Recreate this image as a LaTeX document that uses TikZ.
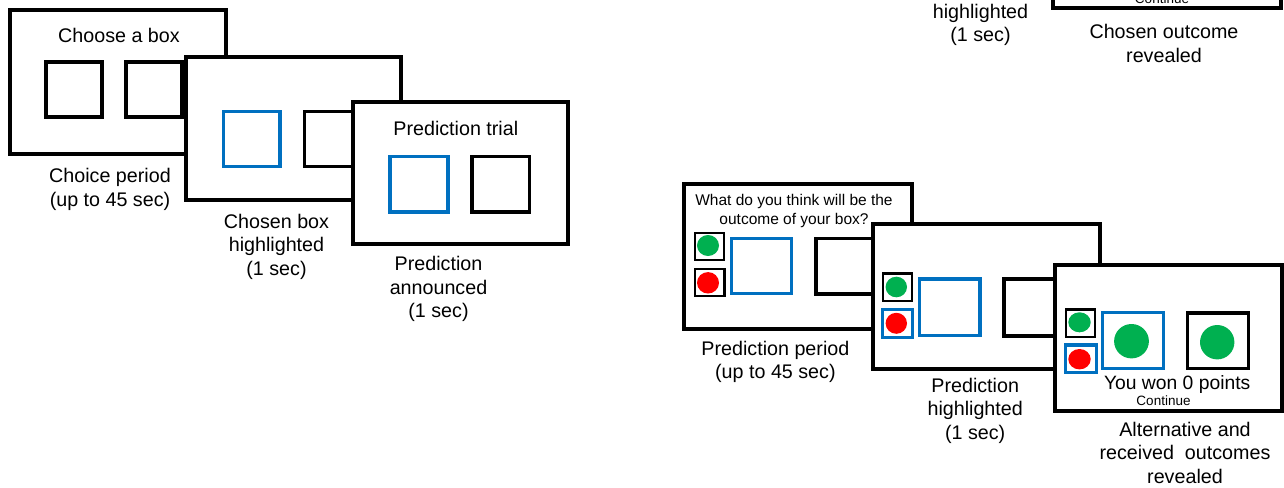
\documentclass[tikz,border=0pt]{standalone}
\usepackage{fontspec}
\setmainfont{Liberation Sans}
\definecolor{oblue}{RGB}{0,112,192}
\definecolor{ogreen}{RGB}{0,176,80}
\definecolor{ored}{RGB}{255,0,0}
\tikzset{
 pframe/.style={draw=black, line width=4pt, fill=white},
 kbox/.style={draw=black, line width=3.6pt},
 bbox/.style={draw=oblue, line width=3.4pt},
 skbox/.style={draw=black, line width=2.2pt},
 sbbox/.style={draw=oblue, line width=3.3pt},
 captext/.style={font=\fontsize{19.7}{23.5}\selectfont, align=center, inner sep=0pt, anchor=base},
 wontext/.style={font=\fontsize{19.3}{23}\selectfont, inner sep=0pt, anchor=base},
 smalltext/.style={font=\fontsize{13.5}{16}\selectfont, inner sep=0pt, anchor=base},
 questtext/.style={font=\fontsize{15.5}{18.8}\selectfont, align=center, inner sep=0pt, anchor=base},
 dotg/.style={fill=ogreen},
 dotr/.style={fill=ored},
}
\begin{document}
\begin{tikzpicture}[x=1pt,y=-1pt]
\path[use as bounding box, clip] (0,0) rectangle (1284,487);
\fill[white] (0,0) rectangle (1284,487);

% multi-line text nodes are placed by the baseline of their last line

% panel 1: choice period
\draw[pframe] (10,10) rectangle (225.5,153.5);
\draw[kbox] (46,62) rectangle (102,117);
\draw[kbox] (126,62) rectangle (182,117);
\node[captext] (t1) at (119,42.7) {Choose a box};
\node[captext] (c1) at (110,206) {Choice period\\(up to 45 sec)};

% panel 2: chosen box highlighted
\draw[pframe] (185.5,57) rectangle (401,199.5);
\draw[bbox] (223.5,111.5) rectangle (280,166.5);
\draw[kbox] (304.5,111.5) rectangle (361,166.5);
\node[captext] (c2) at (276.5,275.3) {Chosen box\\highlighted\\(1 sec)};

% panel 3: prediction announced
\draw[pframe] (353,102) rectangle (568,244);
\node[captext] (t3) at (455.8,135) {Prediction trial};
\draw[bbox] (390,156.5) rectangle (448,212);
\draw[kbox] (472,156.5) rectangle (529.3,212);
\node[captext] (c3) at (438.5,317.7) {Prediction\\announced\\(1 sec)};

% cropped panel at top right
\node[captext] (c0) at (980.5,41.8) {highlighted\\(1 sec)};
\draw[pframe] (1052.7,-60) rectangle (1280.7,8.3);
\node[smalltext] (k0) at (1162,3.3) {Continue};
\node[captext] (c0b) at (1164,62.5) {Chosen outcome\\revealed};

% panel 4: prediction period
\draw[pframe] (683.5,183.5) rectangle (912,328.5);
\node[questtext] (q4) at (794,224.5) {What do you think will be the\\outcome of your box?};
\draw[skbox] (694.7,233) rectangle (723.8,259.7);
\path[dotg] (708,245.5) ellipse [x radius=11, y radius=10.5];
\draw[skbox] (694.7,268.7) rectangle (724.5,296.2);
\path[dotr] (708,282.8) ellipse [x radius=11, y radius=10.7];
\draw[bbox] (731.3,238.3) rectangle (791.3,293.7);
\draw[kbox] (816,238.3) rectangle (876,293.7);
\node[captext] (c4) at (775.4,378.5) {Prediction period\\(up to 45 sec)};

% panel 5: prediction highlighted
\draw[pframe] (872.7,224.3) rectangle (1100,369.3);
\draw[skbox] (883,273.5) rectangle (912.2,301.2);
\path[dotg] (896.3,287) ellipse [x radius=10.7, y radius=10.3];
\draw[sbbox] (882.3,309.3) rectangle (912.3,337.7);
\path[dotr] (896.3,323.3) ellipse [x radius=10.7, y radius=10.5];
\draw[bbox] (919.7,279) rectangle (980,335.7);
\draw[kbox] (1003.7,279.2) rectangle (1064,335.7);
\node[captext] (c5) at (975.2,439.3) {Prediction\\highlighted\\(1 sec)};

% panel 6: outcomes revealed
\draw[pframe] (1055,265) rectangle (1282.3,411.3);
\draw[skbox] (1066.2,309.5) rectangle (1095.3,336.8);
\path[dotg] (1079.5,322.3) ellipse [x radius=11.2, y radius=10];
\draw[sbbox] (1065.7,345) rectangle (1096.7,372.3);
\path[dotr] (1079.5,359.2) ellipse [x radius=11.2, y radius=10.2];
\draw[bbox] (1102.7,312.7) rectangle (1163.3,368.3);
\path[dotg] (1131.5,341.2) ellipse [x radius=17.4, y radius=17.2];
\draw[kbox] (1187.3,312.7) rectangle (1248.3,368.3);
\path[dotg] (1217.2,342.2) ellipse [x radius=17.2, y radius=17.2];
\node[wontext] (w6) at (1177.2,389.3) {You won 0 points};
\node[smalltext] (k6) at (1163.5,405.7) {Continue};
\node[captext] (c6) at (1185,483) {Alternative and\\received~ outcomes\\revealed};
\end{tikzpicture}
\end{document}
